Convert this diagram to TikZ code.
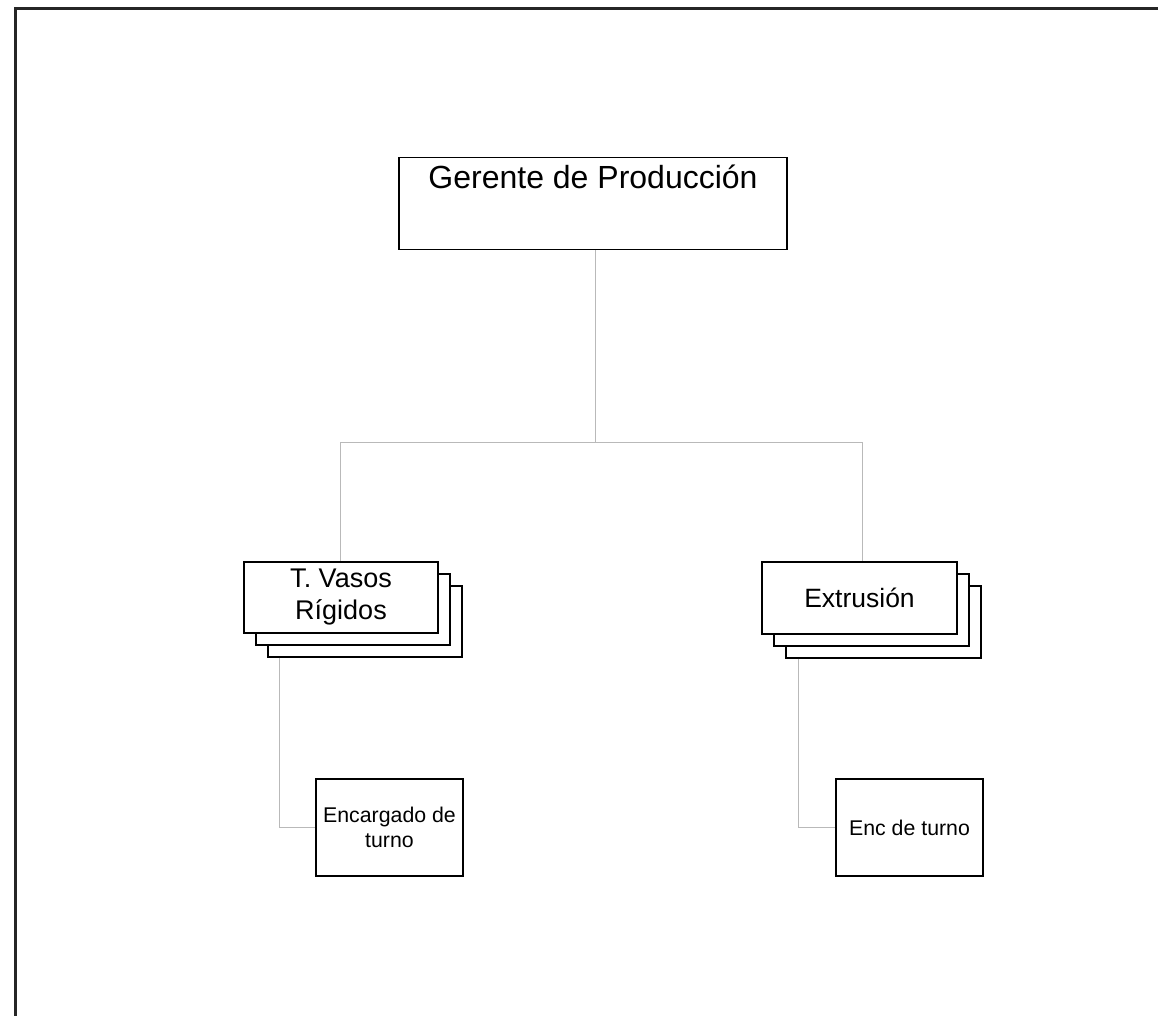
\documentclass[tikz,border=0pt]{standalone}
\usepackage{fontspec}
\setmainfont{Liberation Sans}
\begin{document}
\begin{tikzpicture}[x=1pt,y=-1pt,
  box/.style={draw=black,line width=1.4pt,fill=white,rectangle,inner sep=0pt,align=center},
  link/.style={draw=gray!55,line width=1pt},
  frame/.style={draw=black!85,line width=3pt}]
\path[use as bounding box] (0,0) rectangle (1158,1016);
\draw[frame] (15,1016) -- (15,9) -- (1158,9);

% top box
\node[box,anchor=north,minimum width=388pt,inner ysep=4pt,text height=27pt,text depth=57pt,
  font=\fontsize{32}{38}\selectfont] (ger) at (593,157) {Gerente de Producción};

% left stack
\node[box,minimum width=194pt,minimum height=71pt] (vas3) at (365,621.5) {};
\node[box,minimum width=194pt,minimum height=71pt] (vas2) at (353,609.5) {};
\node[box,minimum width=194pt,minimum height=71pt,font=\fontsize{27}{32}\selectfont] (vas) at (341,597.5) {T. Vasos\\Rígidos};

% right stack
\node[box,minimum width=195pt,minimum height=72pt] (ext3) at (883.5,622) {};
\node[box,minimum width=195pt,minimum height=72pt] (ext2) at (871.5,610) {};
\node[box,minimum width=195pt,minimum height=72pt,font=\fontsize{26.5}{31}\selectfont] (ext) at (859.5,598) {Extrusión};

% bottom boxes
\node[box,minimum width=147pt,minimum height=97pt,font=\fontsize{21.3}{25}\selectfont] (enc1) at (389.5,827.5) {Encargado de\\turno};
\node[box,minimum width=147pt,minimum height=97pt,font=\fontsize{21.3}{25}\selectfont] (enc2) at (909.5,827.5) {Enc de turno};

% connectors
\coordinate (bus) at (595,442);
\draw[link] (ger.south -| bus) -- (bus);
\draw[link] (bus) -| ([xshift=-1pt]vas.north);
\draw[link] (bus) -| ([xshift=2.5pt]ext.north);
\draw[link] ([xshift=12pt]vas3.south west) |- (enc1.west);
\draw[link] ([xshift=13pt]ext3.south west) |- (enc2.west);
\end{tikzpicture}
\end{document}
